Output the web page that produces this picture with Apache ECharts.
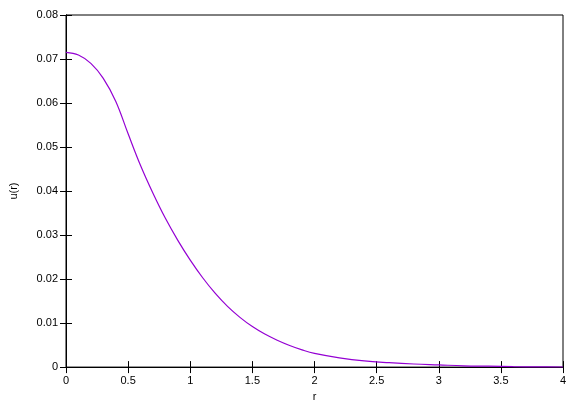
<!DOCTYPE html>
<html>
<head>
<meta charset="utf-8">
<script src="https://cdn.jsdelivr.net/npm/echarts@6/dist/echarts.min.js"></script>
<style>html,body{margin:0;padding:0;background:#fff}#main{width:581px;height:407px}</style>
</head>
<body>
<div id="main"></div>
<script>
// r and u(r)
var rValues = [0,0.1,0.2,0.3,0.4,0.5,0.6,0.7,0.8,0.9,1.0,1.1,1.2,1.3,1.4,1.5,1.6,1.7,1.8,1.9,2.0,2.2,2.4,2.6,2.8,3.0,3.2,3.4,3.6,3.8,4.0];
var uValues = [0.0715,0.0709,0.0690,0.0656,0.0604,0.0530,0.0458,0.0395,0.0338,0.0288,0.0243,0.0203,0.0168,0.0138,0.0113,0.0092,0.0075,0.0061,0.0049,0.0039,0.0031,0.0021,0.0014,0.0010,0.0007,0.0005,0.0003,0.0002,0.0001,0.00005,0.00002];

var pts=[];
for(var i=0;i<rValues.length;i++){ pts.push([rValues[i],uValues[i]]); }

var font={fontFamily:'Liberation Sans, Arial, sans-serif',fontSize:11,color:'#000'};
var axLine={show:true,lineStyle:{color:'#000',width:1}};
var tick={show:true,inside:true,length:6,lineStyle:{color:'#000'}};
var chart=echarts.init(document.getElementById('main'));
chart.setOption({
    animation:false,
    grid:{left:63,right:18,top:15,bottom:37,show:true,borderColor:'#000',borderWidth:1},
    xAxis:[{
        type:'value',min:0,max:4,interval:0.5,
        name:'r',nameLocation:'middle',nameGap:22,nameTextStyle:font,
        axisLine:axLine,axisTick:tick,
        axisLabel:Object.assign({margin:8},font),splitLine:{show:false}
    },{
        type:'value',min:0,max:4,interval:0.5,position:'top',
        axisLine:axLine,axisTick:tick,
        axisLabel:{show:false},splitLine:{show:false}
    }],
    yAxis:[{
        type:'value',min:0,max:0.08,interval:0.01,
        name:'u(r)',nameLocation:'middle',nameGap:47,nameTextStyle:font,
        axisLine:axLine,axisTick:tick,
        axisLabel:Object.assign({margin:8,formatter:function(v){return v===0?'0':v.toFixed(2);}},font),
        splitLine:{show:false}
    },{
        type:'value',min:0,max:0.08,interval:0.01,position:'right',
        axisLine:axLine,axisTick:tick,
        axisLabel:{show:false},splitLine:{show:false}
    }],
    series:[{
        type:'line',data:pts,smooth:0.4,showSymbol:false,
        lineStyle:{color:'#9400d3',width:1.2}
    }]
});
</script>
</body>
</html>
